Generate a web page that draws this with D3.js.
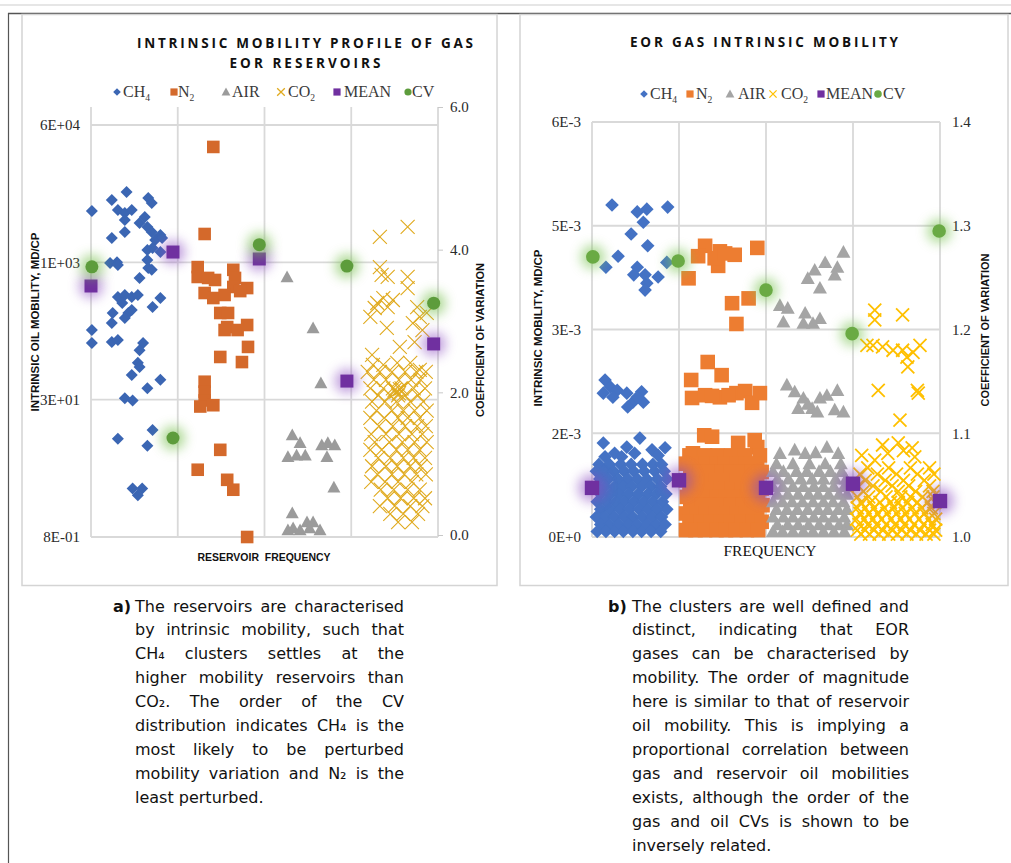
<!DOCTYPE html>
<html>
<head>
<meta charset="utf-8">
<script src="https://cdn.jsdelivr.net/npm/d3@7"></script>
<style>
  body { margin: 0; background: #fff; }
  svg { display: block; }
</style>
</head>
<body>
<svg id="fig" width="1011" height="863"></svg>
<script>
// ---------------------------------------------------------------
// Panel a: intrinsic oil mobility of gas-EOR reservoirs (md/cp, log axis)
// x = reservoir frequency bin position, y = mobility
// ---------------------------------------------------------------
const ch4A = [[0.41,9670],[0.24,7780],[0.66,8210],[0.70,7170],[0.01,5770],[0.31,5930],[0.39,5460],[0.47,5930],
  [0.39,4510],[0.62,4900],[0.56,4160],[0.65,3730],[0.70,3250],[0.80,3000],[0.39,3250],[0.24,2760],[0.74,2610],
  [0.82,2760],[0.65,1990],[0.71,2100],[0.80,1890],[0.22,1400],[0.30,1430],[0.31,1320],[0.65,1520],[0.66,1220],
  [0.70,1160],[0.56,930],[0.31,553],[0.39,585],[0.47,553],[0.54,585],[0.36,470],[0.80,538],[0.71,421],[0.25,358],
  [0.43,358],[0.47,389],[0.39,313],[0.24,272],[0.01,225],[0.01,158],[0.24,162],[0.31,171],[0.60,158],[0.56,130],
  [0.54,92],[0.56,82],[0.47,66],[0.80,58],[0.65,46],[0.39,35],[0.48,33],[0.71,14.8],[0.31,11.6],[0.65,9.6],
  [0.48,3.0],[0.59,3.0],[0.54,2.5]];
const n2A = [[1.41,33000],[1.31,3080],[1.23,1250],[1.23,955],[1.35,930],[1.43,880],[1.64,1160],[1.66,930],
  [1.80,706],[1.64,727],[1.31,617],[1.41,538],[1.54,585],[1.72,650],[1.49,358],[1.58,358],[1.57,244],[1.80,258],
  [1.69,225],[1.54,225],[1.81,142],[1.49,108],[1.74,94],[1.31,55],[1.31,42],[1.31,33],[1.26,28],[1.41,29],
  [1.49,8.6],[1.23,5.0],[1.57,3.8],[1.64,2.9],[1.80,0.8]];
const airA = [[2.26,955],[2.56,238],[2.65,53],[2.32,12.9],[2.41,10.4],[2.27,7.1],[2.37,7.4],[2.47,7.4],[2.66,9.8],
  [2.73,10.4],[2.81,9.8],[2.72,7.1],[2.80,3.1],[2.32,1.54],[2.33,1.02],[2.41,0.97],[2.49,1.2],[2.56,1.2],
  [2.64,0.97],[2.27,0.97],[2.52,1.02]];
const co2A = [[3.33,2840],[3.65,3730],[3.33,1250],[3.35,1010],[3.42,955],[3.65,955],[3.65,706],[3.37,538],
  [3.48,510],[3.30,470],[3.27,410],[3.42,421],[3.22,321],[3.76,421],[3.79,321],[3.87,358],[3.71,272],[3.41,238],
  [3.82,225],[3.56,142],[3.73,162],[3.24,114],[3.25,87],[3.37,87],[3.53,92],[3.68,92],[3.79,76],
  [3.52,42],[3.55,40],[3.50,44],[3.56,45]];
// denser part of the CO2 cloud, listed row by row: [mobility, [x positions]]
const co2ARows = [
  [72,[3.19,3.33,3.47,3.62,3.75,3.86]], [58,[3.26,3.40,3.55,3.69,3.80]],
  [46,[3.22,3.37,3.48,3.58,3.72,3.85]], [38,[3.31,3.45,3.54,3.62,3.77]],
  [32,[3.24,3.39,3.52,3.68,3.83]],      [25,[3.29,3.47,3.60,3.73,3.87]],
  [20.5,[3.22,3.38,3.54,3.65,3.79]],    [16.4,[3.32,3.48,3.62,3.76,3.86]],
  [13.2,[3.23,3.40,3.55,3.70,3.82]],    [10.6,[3.27,3.44,3.59,3.73,3.87]],
  [8.6,[3.22,3.35,3.52,3.65,3.79]],     [6.9,[3.31,3.45,3.60,3.72,3.85]],
  [5.5,[3.24,3.40,3.53,3.68,3.80]],     [4.4,[3.30,3.47,3.61,3.75,3.86]],
  [3.6,[3.23,3.39,3.54,3.70]],          [2.9,[3.34,3.49,3.65,3.79]],
  [2.3,[3.42,3.57,3.72,3.85]],          [1.86,[3.33,3.50,3.68,3.82]],
  [1.5,[3.45,3.60,3.77]],               [1.2,[3.54,3.70]]];
const meanA = [[0,747],[0.945,1884],[1.94,1559],[2.95,56],[3.95,154]];
const cvA = [[0.01,3.76],[0.945,1.36],[1.94,4.07],[2.95,3.77],[3.95,3.25]];

const yTickLabelsA = ["8E-01","3E+01","1E+03","6E+04"];
const cvTicksA = [0,2,4,6];
const cvTickLabelsA = ["0.0","2.0","4.0","6.0"];

// ---------------------------------------------------------------
// Panel b: EOR gas intrinsic mobility (values in 1E-3 md/cp, linear axis)
// ---------------------------------------------------------------
const ch4B = [[0.23,4.80],[0.52,4.70],[0.63,4.74],[0.87,4.77],[0.59,4.55],[0.45,4.38],[0.64,4.21],[0.30,4.06],
  [0.16,3.90],[0.52,3.90],[0.48,3.79],[0.61,3.79],[0.76,3.76],[0.63,3.67],[0.61,3.57],[0.86,3.97],
  [0.15,2.27],[0.21,2.17],[0.13,2.08],[0.29,2.12],[0.40,2.08],[0.57,2.10],[0.47,1.95],[0.59,1.95],[0.41,1.88],
  [0.24,2.02],[0.52,2.02],
  [0.13,1.36],[0.26,1.21],[0.40,1.30],[0.55,1.43],[0.69,1.26],[0.84,1.29],[0.15,1.16],[0.49,1.21],[0.76,1.18],[0.34,1.16]];
const ch4BRows = [
  [1.05,[0.08,0.20,0.33,0.45,0.58,0.70,0.80]],
  [0.95,[0.05,0.14,0.25,0.37,0.48,0.60,0.72,0.83]],
  [0.84,[0.09,0.19,0.30,0.41,0.52,0.63,0.75,0.86]],
  [0.73,[0.05,0.15,0.26,0.36,0.46,0.57,0.68,0.79]],
  [0.62,[0.10,0.21,0.31,0.42,0.53,0.64,0.74,0.85]],
  [0.51,[0.06,0.16,0.27,0.37,0.48,0.59,0.70,0.81]],
  [0.40,[0.10,0.21,0.32,0.43,0.54,0.64,0.75,0.86]],
  [0.29,[0.05,0.15,0.26,0.37,0.47,0.58,0.69,0.80]],
  [0.18,[0.10,0.20,0.31,0.42,0.52,0.63,0.74,0.84]],
  [0.08,[0.06,0.16,0.26,0.36,0.47,0.57,0.68,0.79]]];
const n2B = [[1.30,4.21],[1.22,4.06],[1.47,4.13],[1.64,4.08],[1.45,3.92],[1.90,4.18],[1.11,3.74],[1.61,3.38],
  [1.80,3.45],[1.66,3.08],[1.41,4.03],[1.53,4.10],
  [1.33,2.53],[1.49,2.34],[1.14,2.27],[1.15,2.01],[1.30,2.05],[1.47,2.02],[1.66,2.08],[1.76,2.11],[1.84,1.94],
  [1.93,2.08],[1.38,2.04],[1.57,2.05],
  [1.29,1.47],[1.38,1.45],[1.68,1.36],[1.87,1.40],[1.16,1.21],[1.90,1.30]];
const n2BRows = [
  [1.18,[1.12,1.30,1.44,1.60,1.76,1.93]],
  [1.06,[1.08,1.20,1.31,1.43,1.53,1.66,1.77,1.90]],
  [0.94,[1.13,1.24,1.36,1.49,1.60,1.71,1.84,1.95]],
  [0.82,[1.08,1.19,1.32,1.42,1.55,1.66,1.79,1.90]],
  [0.70,[1.12,1.25,1.37,1.48,1.61,1.72,1.83,1.95]],
  [0.58,[1.09,1.19,1.30,1.43,1.54,1.67,1.78,1.91]],
  [0.46,[1.13,1.26,1.36,1.47,1.60,1.73,1.84,1.96]],
  [0.34,[1.08,1.20,1.31,1.42,1.55,1.66,1.77,1.90]],
  [0.22,[1.12,1.25,1.37,1.48,1.59,1.72,1.85,1.95]],
  [0.10,[1.08,1.19,1.30,1.43,1.54,1.65,1.78,1.91]]];
const airB = [[2.89,4.12],[2.68,3.97],[2.82,3.90],[2.56,3.86],[2.48,3.74],[2.79,3.79],[2.62,3.60],[2.16,3.35],
  [2.25,3.31],[2.20,3.11],[2.45,3.24],[2.43,3.09],[2.62,3.16],[2.54,3.09],
  [2.24,2.20],[2.33,2.10],[2.43,2.01],[2.37,1.86],[2.53,1.86],[2.62,2.01],[2.70,2.05],[2.82,2.12],[2.79,1.84],
  [2.89,1.81],[2.59,1.81],[2.48,1.92],
  [2.16,1.21],[2.70,1.30],[2.83,1.21],[2.33,1.26],[2.45,1.21],[2.57,1.22]];
const airBRows = [
  [1.06,[2.12,2.31,2.50,2.68,2.86]],
  [0.95,[2.08,2.20,2.35,2.47,2.61,2.74,2.87]],
  [0.84,[2.13,2.26,2.40,2.53,2.66,2.80,2.92]],
  [0.73,[2.08,2.19,2.31,2.43,2.55,2.66,2.78,2.90]],
  [0.62,[2.13,2.25,2.37,2.49,2.60,2.72,2.84,2.93]],
  [0.51,[2.08,2.19,2.30,2.42,2.54,2.66,2.77,2.89]],
  [0.40,[2.12,2.24,2.36,2.48,2.60,2.71,2.83,2.93]],
  [0.29,[2.08,2.20,2.31,2.43,2.55,2.66,2.78,2.90]],
  [0.18,[2.13,2.25,2.37,2.49,2.61,2.72,2.84,2.93]],
  [0.08,[2.08,2.19,2.31,2.43,2.54,2.66,2.78,2.90]]];
const co2B = [[3.25,3.28],[3.25,3.14],[3.57,3.21],[3.23,2.77],[3.34,2.75],[3.46,2.70],[3.57,2.70],[3.69,2.67],
  [3.77,2.77],[3.63,2.46],[3.29,2.12],[3.74,2.12],[3.75,2.08],[3.54,1.69],[3.16,2.77],[3.62,2.60],
  [3.10,1.18],[3.34,1.33],[3.52,1.36],[3.68,1.29],[3.25,1.11],[3.71,1.16],[3.40,1.21],[3.58,1.25]];
const co2BRows = [
  [1.00,[3.17,3.41,3.66,3.88]],
  [0.91,[3.08,3.28,3.50,3.74,3.93]],
  [0.82,[3.14,3.37,3.58,3.82]],
  [0.74,[3.06,3.23,3.45,3.64,3.88]],
  [0.66,[3.12,3.32,3.52,3.72,3.92]],
  [0.58,[3.05,3.18,3.38,3.55,3.66,3.80,3.92]],
  [0.50,[3.09,3.20,3.31,3.43,3.52,3.63,3.74,3.86,3.94]],
  [0.42,[3.05,3.14,3.24,3.36,3.47,3.57,3.68,3.79,3.90]],
  [0.34,[3.08,3.18,3.28,3.39,3.50,3.60,3.71,3.82,3.93]],
  [0.26,[3.04,3.13,3.23,3.33,3.44,3.55,3.65,3.76,3.87,3.95]],
  [0.18,[3.07,3.17,3.27,3.38,3.48,3.59,3.70,3.81,3.91]],
  [0.10,[3.05,3.14,3.24,3.34,3.45,3.56,3.66,3.77,3.88,3.95]],
  [0.04,[3.09,3.19,3.30,3.41,3.51,3.62,3.73,3.84,3.93]]];
const meanB = [[0,0.71],[1.0,0.82],[2.0,0.71],[3.0,0.77],[4.0,0.52]];
const cvB = [[0.01,1.270],[0.99,1.266],[2.0,1.238],[2.99,1.196],[3.99,1.295]];

const yTicksB = [0,1.5,3,4.5,6];
const yTickLabelsB = ["0E+0","2E-3","3E-3","5E-3","6E-3"];
const cvTicksB = [1.0,1.1,1.2,1.3,1.4];
const cvTickLabelsB = ["1.0","1.1","1.2","1.3","1.4"];

const seriesNames = ["CH4","N2","AIR","CO2","MEAN","CV"];

const captionA = [
  "The reservoirs are characterised",
  "by intrinsic mobility, such that",
  "CH\u2084 clusters settles at the",
  "higher mobility reservoirs than",
  "CO\u2082. The order of the CV",
  "distribution indicates CH\u2084 is the",
  "most likely to be perturbed",
  "mobility variation and N\u2082 is the",
  "least perturbed."];
const captionB = [
  "The clusters are well defined and",
  "distinct, indicating that EOR",
  "gases can be characterised by",
  "mobility. The order of magnitude",
  "here is similar to that of reservoir",
  "oil mobility. This is implying a",
  "proportional correlation between",
  "gas and reservoir oil mobilities",
  "exists, although the order of the",
  "gas and oil CVs is shown to be",
  "inversely related."];

// expand row-listed clouds into point pairs
const fromRows = rows => rows.flatMap(([v, xs]) => xs.map(x => [x, v]));

// ---------------------------------------------------------------
const svg = d3.select("#fig");
const defs = svg.append("defs");
defs.append("filter").attr("id", "glow")
  .attr("x", "-1").attr("y", "-1").attr("width", "3").attr("height", "3")
  .append("feGaussianBlur").attr("stdDeviation", 6);

svg.append("rect").attr("width", 1011).attr("height", 863).attr("fill", "#fff");

// page frame
svg.append("line").attr("x1", 0).attr("x2", 1011).attr("y1", 5).attr("y2", 5)
  .attr("stroke", "#e6e6e6").attr("stroke-width", 2);
svg.append("line").attr("x1", 8).attr("x2", 1011).attr("y1", 13.5).attr("y2", 13.5)
  .attr("stroke", "#555").attr("stroke-width", 1.4);
svg.append("line").attr("x1", 8.5).attr("x2", 8.5).attr("y1", 13).attr("y2", 863)
  .attr("stroke", "#555").attr("stroke-width", 1.2);
svg.append("rect").attr("x", 22).attr("y", 14.5).attr("width", 475).attr("height", 571)
  .attr("fill", "none").attr("stroke", "#d4d4d4").attr("stroke-width", 1.5);
svg.append("rect").attr("x", 520).attr("y", 14.5).attr("width", 488).attr("height", 571)
  .attr("fill", "none").attr("stroke", "#d4d4d4").attr("stroke-width", 1.5);

// marker outlines, s = half size
const shapes = {
  diamond: s => `M0,${-s}L${s},0L0,${s}L${-s},0Z`,
  square: s => `M${-s},${-s}H${s}V${s}H${-s}Z`,
  triangle: s => `M0,${-s}L${s},${s * 0.8}L${-s},${s * 0.8}Z`,
  cross: s => `M${-s},${-s}L${s},${s}M${s},${-s}L${-s},${s}`,
  circle: s => `M${s},0A${s},${s},0,1,1,${-s},0A${s},${s},0,1,1,${s},0Z`
};

function scatter(g, data, x, y, shape, size, color, sw) {
  g.append("g").selectAll("path").data(data).join("path")
    .attr("transform", d => `translate(${x(d[0])},${y(d[1])})`)
    .attr("d", shapes[shape](size))
    .attr("fill", shape === "cross" ? "none" : color)
    .attr("stroke", shape === "cross" ? color : "none")
    .attr("stroke-width", sw || 1);
}
function glow(g, data, x, y, color, r, op) {
  g.append("g").selectAll("circle").data(data).join("circle")
    .attr("cx", d => x(d[0])).attr("cy", d => y(d[1]))
    .attr("r", r).attr("fill", color).attr("opacity", op)
    .attr("filter", "url(#glow)");
}
function styleAxis(sel, family, size, color) {
  sel.select(".domain").remove();
  sel.selectAll("text").attr("font-family", family).attr("font-size", size).attr("fill", color);
}
function legend(g, items, y, colors, sizes, fontSize) {
  items.forEach((it, i) => {
    const shape = ["diamond", "square", "triangle", "cross", "square", "circle"][i];
    g.append("path").attr("transform", `translate(${it.mx},${y})`)
      .attr("d", shapes[shape](sizes[i]))
      .attr("fill", shape === "cross" ? "none" : colors[i])
      .attr("stroke", shape === "cross" ? colors[i] : "none").attr("stroke-width", 1.3);
    const name = seriesNames[i];
    const m = name.match(/^([A-Z]+)(\d*)$/);
    const t = g.append("text").attr("x", it.tx).attr("y", y + 5)
      .attr("font-family", "Liberation Serif, serif").attr("font-size", fontSize).attr("fill", "#3a3a3a");
    t.append("tspan").text(m[1]);
    if (m[2]) t.append("tspan").attr("font-size", fontSize * 0.6).attr("dy", 4).text(m[2]);
  });
}
function rotatedTitle(g, text, x, cy, len, opts) {
  g.append("text").attr("transform", `translate(${x},${cy}) rotate(-90)`)
    .attr("text-anchor", "middle").attr("dominant-baseline", "central")
    .attr("font-family", opts.family).attr("font-weight", opts.weight).attr("font-size", opts.size)
    .attr("fill", "#111").attr("textLength", len).attr("lengthAdjust", "spacingAndGlyphs")
    .text(text);
}

// ======================= panel a =======================
{
  const g = svg.append("g");
  const x = d3.scaleLinear().domain([0, 4]).range([91, 438]);
  const y = d3.scaleLog().domain([0.8, 6e4]).range([537, 125]);
  const y2 = d3.scaleLinear().domain([0, 6]).range([535, 107]);
  const yTicks = d3.range(4).map(i => 0.8 * Math.pow(6e4 / 0.8, i / 3));

  // grid
  g.append("g").selectAll("line").data(d3.range(5)).join("line")
    .attr("x1", d => x(d)).attr("x2", d => x(d)).attr("y1", 107).attr("y2", 537)
    .attr("stroke", "#d9d9d9").attr("stroke-width", 1.8);
  g.append("g").selectAll("line").data(yTicks).join("line")
    .attr("x1", 91).attr("x2", 438).attr("y1", d => y(d)).attr("y2", d => y(d))
    .attr("stroke", "#d9d9d9").attr("stroke-width", 1.8);

  // axes
  const la = g.append("g").attr("transform", "translate(91,0)")
    .call(d3.axisLeft(y).tickValues(yTicks).tickFormat((d, i) => yTickLabelsA[i]).tickSize(0).tickPadding(11));
  styleAxis(la, "Liberation Serif, serif", 15, "#2a2a2a");
  const ra = g.append("g").attr("transform", "translate(438,0)")
    .call(d3.axisRight(y2).tickValues(cvTicksA).tickFormat((d, i) => cvTickLabelsA[i]).tickSize(5).tickPadding(7));
  styleAxis(ra, "Liberation Serif, serif", 15, "#2a2a2a");
  ra.selectAll("line").attr("stroke", "#c8c8c8");

  // series
  const c = ["#3b66b3", "#d4692b", "#9b9b9b", "#e0aa1e", "#7030a0", "#5d9c3c"];
  scatter(g, ch4A, x, y, "diamond", 6, c[0]);
  scatter(g, n2A, x, y, "square", 6.3, c[1]);
  scatter(g, airA, x, y, "triangle", 6.5, c[2]);
  scatter(g, co2A.concat(fromRows(co2ARows)), x, y, "cross", 7, c[3], 1.1);
  glow(g, meanA, x, y, "#8a4cc0", 12, 0.55);
  scatter(g, meanA, x, y, "square", 6.5, c[4]);
  glow(g, cvA, x, y2, "#78c050", 12, 0.6);
  scatter(g, cvA, x, y2, "circle", 6.5, c[5]);

  // titles
  g.append("text").attr("x", 305).attr("y", 48).attr("text-anchor", "middle")
    .attr("font-family", "Open Sans, sans-serif").attr("font-weight", 700).attr("font-size", 13.5)
    .attr("fill", "#111").attr("textLength", 336).attr("lengthAdjust", "spacing")
    .text("INTRINSIC MOBILITY PROFILE OF GAS");
  g.append("text").attr("x", 305).attr("y", 68).attr("text-anchor", "middle")
    .attr("font-family", "Open Sans, sans-serif").attr("font-weight", 700).attr("font-size", 13.5)
    .attr("fill", "#111").attr("textLength", 151).attr("lengthAdjust", "spacing")
    .text("EOR RESERVOIRS");

  legend(g, [{mx:117,tx:123},{mx:174,tx:178},{mx:226,tx:232},{mx:281,tx:288},{mx:337,tx:344},{mx:408,tx:412}],
    92, c, [3.8, 3.6, 4.4, 3.8, 3.6, 3.6], 16);

  const tf = {family: "Liberation Sans Narrow, Liberation Sans, sans-serif", weight: 700, size: 11};
  rotatedTitle(g, "INTRINSIC OIL MOBILITY, MD/CP", 35, 322, 179, tf);
  rotatedTitle(g, "COEFFICIENT OF VARIATION", 480, 340, 154, tf);
  g.append("text").attr("x", 264).attr("y", 561).attr("text-anchor", "middle")
    .attr("font-family", tf.family).attr("font-weight", 700).attr("font-size", 11)
    .attr("fill", "#111").attr("textLength", 133).attr("lengthAdjust", "spacingAndGlyphs")
    .attr("xml:space", "preserve").text("RESERVOIR  FREQUENCY");
}

// ======================= panel b =======================
{
  const g = svg.append("g");
  const x = d3.scaleLinear().domain([0, 4]).range([592, 940]);
  const y = d3.scaleLinear().domain([0, 6]).range([537, 122]);
  const y2 = d3.scaleLinear().domain([1.0, 1.4]).range([537, 122]);

  g.append("g").selectAll("line").data(d3.range(5)).join("line")
    .attr("x1", d => x(d)).attr("x2", d => x(d)).attr("y1", 122).attr("y2", 537)
    .attr("stroke", "#d9d9d9").attr("stroke-width", 1.8);
  g.append("g").selectAll("line").data(yTicksB).join("line")
    .attr("x1", 592).attr("x2", 940).attr("y1", d => y(d)).attr("y2", d => y(d))
    .attr("stroke", "#d9d9d9").attr("stroke-width", 1.8);

  const la = g.append("g").attr("transform", "translate(592,0)")
    .call(d3.axisLeft(y).tickValues(yTicksB).tickFormat((d, i) => yTickLabelsB[i]).tickSize(0).tickPadding(11));
  styleAxis(la, "Liberation Serif, serif", 15, "#2a2a2a");
  const ra = g.append("g").attr("transform", "translate(940,0)")
    .call(d3.axisRight(y2).tickValues(cvTicksB).tickFormat((d, i) => cvTickLabelsB[i]).tickSize(0).tickPadding(12));
  styleAxis(ra, "Liberation Serif, serif", 15, "#2a2a2a");

  const c = ["#4472c4", "#ed7d31", "#a5a5a5", "#ffc000", "#7030a0", "#6aaa44"];
  scatter(g, ch4B.concat(fromRows(ch4BRows)), x, y, "diamond", 6.8, c[0]);
  scatter(g, n2B.concat(fromRows(n2BRows)), x, y, "square", 7.3, c[1]);
  scatter(g, airB.concat(fromRows(airBRows)), x, y, "triangle", 7, c[2]);
  scatter(g, co2B.concat(fromRows(co2BRows)), x, y, "cross", 6.5, c[3], 1.8);
  glow(g, meanB, x, y, "#8a4cc0", 14, 0.55);
  scatter(g, meanB, x, y, "square", 7.2, c[4]);
  glow(g, cvB, x, y2, "#7cc455", 12, 0.6);
  scatter(g, cvB, x, y2, "circle", 6.8, c[5]);

  g.append("text").attr("x", 764).attr("y", 47).attr("text-anchor", "middle")
    .attr("font-family", "Open Sans, sans-serif").attr("font-weight", 700).attr("font-size", 13.5)
    .attr("fill", "#111").attr("textLength", 268).attr("lengthAdjust", "spacing")
    .text("EOR GAS INTRINSIC MOBILITY");

  legend(g, [{mx:644,tx:650},{mx:690,tx:696},{mx:730,tx:738},{mx:773,tx:781},{mx:821,tx:826},{mx:878,tx:883}],
    94, c, [3.8, 3.6, 4.4, 3.6, 3.6, 3.8], 16);

  const tf = {family: "Liberation Sans Narrow, Liberation Sans, sans-serif", weight: 700, size: 11};
  rotatedTitle(g, "INTRINSIC MOBILITY, MD/CP", 538, 328, 157, tf);
  rotatedTitle(g, "COEFFICIENT OF VARIATION", 985, 330, 153, tf);
  g.append("text").attr("x", 770).attr("y", 556).attr("text-anchor", "middle")
    .attr("font-family", "Liberation Serif, serif").attr("font-size", 15.5).attr("fill", "#111")
    .text("FREQUENCY");
}

// ======================= captions =======================
function paragraph(tag, lines, xTag, x0, x1, y0, lh) {
  const g = svg.append("g").attr("font-family", "DejaVu Sans, sans-serif").attr("font-size", 16).attr("fill", "#111");
  g.append("text").attr("x", xTag).attr("y", y0).attr("font-weight", 700).text(tag);
  lines.forEach((line, i) => {
    const yy = y0 + i * lh;
    if (i === lines.length - 1) {
      g.append("text").attr("x", x0).attr("y", yy).text(line);
      return;
    }
    const words = line.split(" ");
    const widths = words.map(w => {
      const t = g.append("text").text(w);
      const l = t.node().getComputedTextLength();
      t.remove();
      return l;
    });
    const gap = (x1 - x0 - d3.sum(widths)) / (words.length - 1);
    let xx = x0;
    words.forEach((w, j) => {
      g.append("text").attr("x", xx).attr("y", yy).text(w);
      xx += widths[j] + gap;
    });
  });
}
paragraph("a)", captionA, 113, 135, 404, 611.5, 23.9);
paragraph("b)", captionB, 608, 632, 909, 611.5, 23.9);
</script>
</body>
</html>
